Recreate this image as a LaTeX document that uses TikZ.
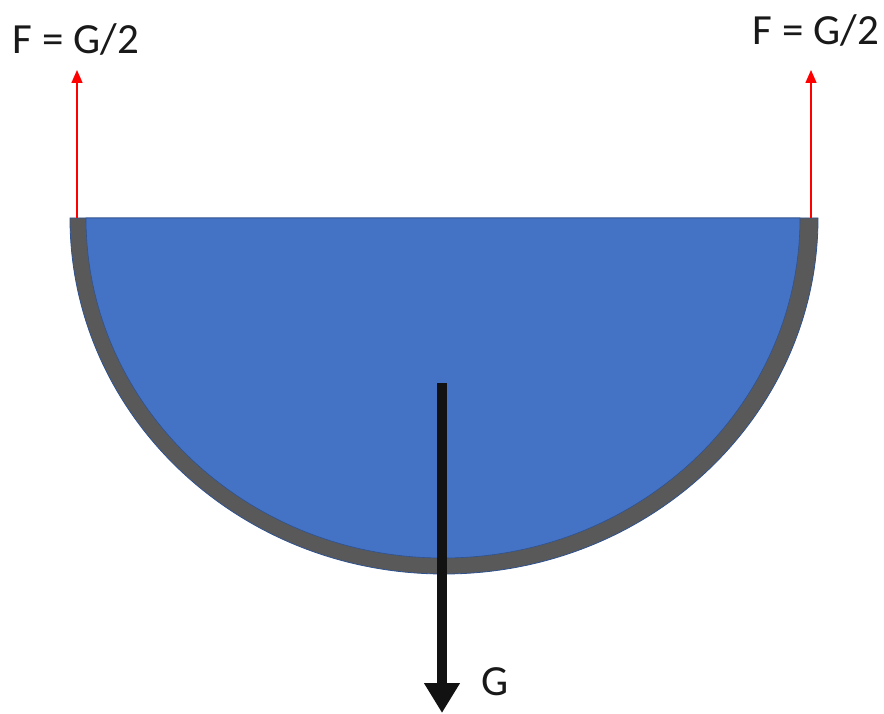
\documentclass[tikz,border=0pt]{standalone}
\usepackage{fontspec}
\setmainfont{Carlito}
\usetikzlibrary{arrows.meta}
\definecolor{shellgray}{HTML}{595959}
\definecolor{waterblue}{HTML}{4472C4}
\definecolor{edgeblue}{HTML}{2F528F}
\definecolor{forcered}{HTML}{FF0000}
\tikzset{
  lbl/.style={font=\fontsize{43}{50}\selectfont, text=black!90, inner sep=0pt},
  reactarrow/.style={draw=forcered, line width=1.5pt, -{Triangle[width=11pt,length=13pt]}},
  weightarrow/.style={draw=black!93, line width=10pt, -{Triangle[width=34pt,length=30pt]}}
}
\begin{document}
\begin{tikzpicture}[x=1pt,y=1pt]
\useasboundingbox (0,0) rectangle (884,713);
% shell
\filldraw[fill=shellgray, draw=edgeblue, line width=0.8pt] (70,495) arc[start angle=180,end angle=360,x radius=374pt,y radius=356pt] -- cycle;
% water
\filldraw[fill=waterblue, draw=edgeblue, line width=0.6pt] (86,495) arc[start angle=180,end angle=360,x radius=357pt,y radius=340pt] -- cycle;
% coordinates
\coordinate (lbase) at (77,495);
\coordinate (ltip) at (77,643);
\coordinate (rbase) at (811,495);
\coordinate (rtip) at (811,643);
\coordinate (gstart) at (442,330);
\coordinate (gtip) at (442,0);
% arrows
\draw[reactarrow] (lbase) -- (ltip);
\draw[reactarrow] (rbase) -- (rtip);
\draw[weightarrow] (gstart) -- (gtip);
% labels
\node[lbl] (lblL) at (76,674) {F = G/2};
\node[lbl] (lblR) at (816,683) {F = G/2};
\node[lbl] (lblG) at (495,31) {G};
\end{tikzpicture}
\end{document}
